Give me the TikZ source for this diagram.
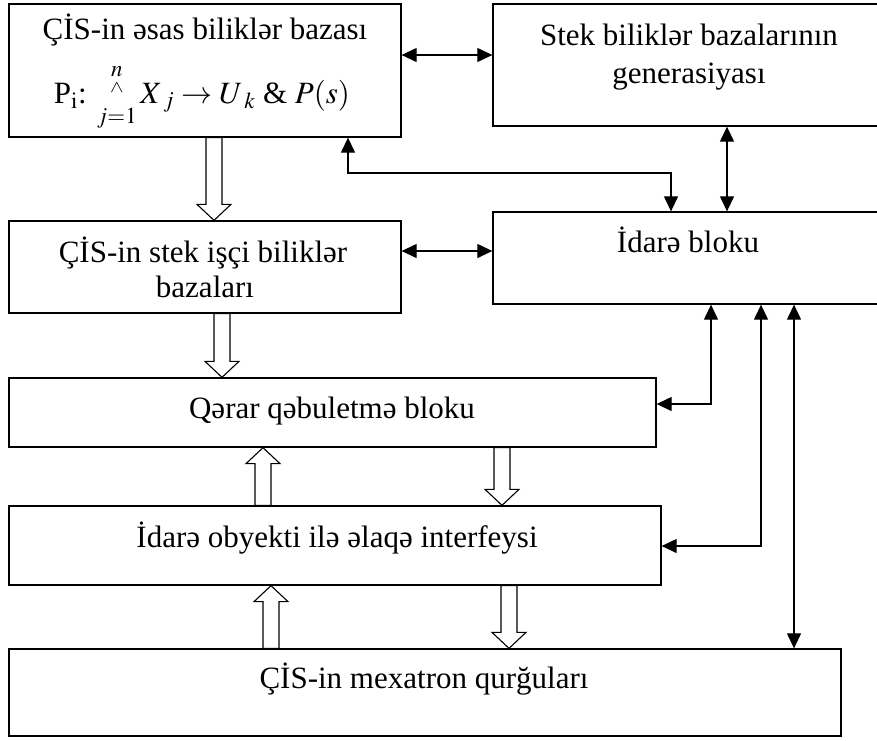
\documentclass[tikz,border=0pt]{standalone}
\usepackage{mathptmx}
\usepackage{fontspec}
\setmainfont{Liberation Serif}
\usetikzlibrary{calc,arrows.meta}

% hollow block arrows between boxes (#3 = x position)
\newcommand{\holdown}[3]{%
  \coordinate (ht) at (#3,0 |- #1.south);
  \coordinate (hb) at (#3,0 |- #2.north);
  \draw[hol] ($(ht)+(-8,0)$) -- ($(hb)+(-8,-16)$) -- ($(hb)+(-17,-16)$) -- (hb)
    -- ($(hb)+(17,-16)$) -- ($(hb)+(8,-16)$) -- ($(ht)+(8,0)$) -- cycle;}
\newcommand{\holup}[3]{%
  \coordinate (ht) at (#3,0 |- #2.south);
  \coordinate (hb) at (#3,0 |- #1.north);
  \draw[hol] ($(hb)+(-8,0)$) -- ($(ht)+(-8,16)$) -- ($(ht)+(-17,16)$) -- (ht)
    -- ($(ht)+(17,16)$) -- ($(ht)+(8,16)$) -- ($(hb)+(8,0)$) -- cycle;}

\begin{document}
\begin{tikzpicture}[x=1pt,y=-1pt,font=\fontsize{31}{37}\selectfont,
  blok/.style={draw,line width=1.3pt,inner sep=0pt},
  txt/.style={anchor=base,inner sep=1pt},
  ox/.style={line width=1.2pt,{Triangle[length=15pt,width=14pt]}-{Triangle[length=15pt,width=14pt]}},
  hol/.style={draw,line width=1.1pt,line join=miter}]
  \useasboundingbox (0,0) rectangle (877,740);
  \clip (0,0) rectangle (877,740);

  % boxes
  \node[blok,minimum width=392pt,minimum height=133pt] (a) at (205,70.5) {};
  \node[blok,minimum width=392pt,minimum height=122pt] (b) at (689,65) {};
  \node[blok,minimum width=392pt,minimum height=92pt] (idare) at (689,258) {};
  \node[blok,minimum width=392pt,minimum height=92pt] (c) at (205,267) {};
  \node[blok,minimum width=647pt,minimum height=69pt] (d) at (332.5,412.5) {};
  \node[blok,minimum width=652pt,minimum height=79pt] (e) at (335,545.5) {};
  \node[blok,minimum width=832pt,minimum height=87pt] (f) at (425,692.5) {};

  % texts
  \node[txt] (a1) at (205,39) {ÇİS-in əsas biliklər bazası};
  \node[txt] (a2) at (202,103) {P$_{\mathrm{i}}$: $\mathop{\raisebox{11pt}{\scalebox{0.65}[0.55]{$\wedge$}}}\limits_{j=1}^{n} X_{\;j} \rightarrow U_{\;k}$ \& $P(s)$};
  \node[txt] (b1) at (689,45) {Stek biliklər bazalarının};
  \node[txt] (b2) at (689,83) {generasiyası};
  \node[txt] (i1) at (688,252) {İdarə bloku};
  \node[txt] (c1) at (203,262) {ÇİS-in stek işçi biliklər};
  \node[txt] (c2) at (205,297) {bazaları};
  \node[txt] (d1) at (332,418) {Qərar qəbuletmə bloku};
  \node[txt] (e1) at (337,547) {İdarə obyekti ilə əlaqə interfeysi};
  \node[txt] (f1) at (424,688) {ÇİS-in mexatron qurğuları};

  % thin arrows
  \draw[ox] (a.east |- 0,55) -- (b.west |- 0,55);
  \draw[ox] (a.south -| 348,0) |- (671,173) -- (idare.north -| 671,0);
  \draw[ox] (b.south -| 727,0) -- (idare.north -| 727,0);
  \draw[ox] (c.east |- 0,251) -- (idare.west |- 0,251);
  \draw[ox] (idare.south -| 711,0) |- (d.east |- 0,404);
  \draw[ox] (idare.south -| 761,0) |- (e.east |- 0,546);
  \draw[ox] (idare.south -| 794,0) -- (f.north -| 794,0);

  % block arrows
  \holdown{a}{c}{214}
  \holdown{c}{d}{222}
  \holdown{d}{e}{502}
  \holup{e}{d}{263}
  \holdown{e}{f}{509}
  \holup{f}{e}{271}
\end{tikzpicture}
\end{document}
